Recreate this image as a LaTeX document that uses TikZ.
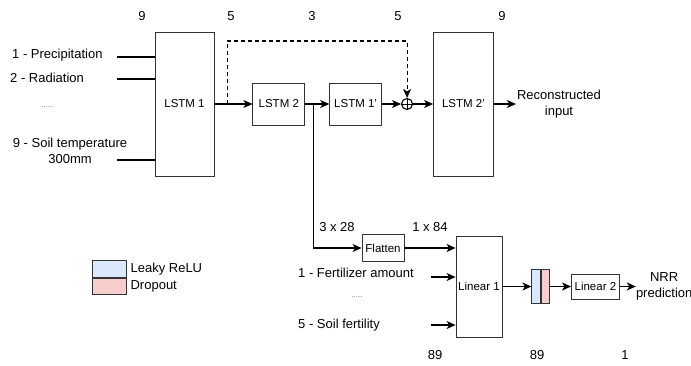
\documentclass[tikz,border=0pt]{standalone}
\usepackage{fontspec}
\setmainfont{Liberation Sans}
\usepackage{xcolor}
\usetikzlibrary{positioning, arrows.meta, calc}

\definecolor{relublue}{HTML}{DAE8FC}
\definecolor{dropred}{HTML}{F8CECC}
\definecolor{edgegrey}{HTML}{333333}

\begin{document}
\begin{tikzpicture}[
    x=1pt, y=-1pt,
    >={Stealth[length=9pt, width=8pt, inset=2.5pt]},
    font=\fontsize{13}{16}\selectfont,
    block/.style={draw=edgegrey, line width=0.8pt, align=center, inner sep=1pt, font=\fontsize{11.5}{14}\selectfont},
    tall/.style={block, minimum width=59pt, minimum height=144pt},
    sblock/.style={block, minimum width=52pt, minimum height=42pt},
    legbox/.style={draw=edgegrey, line width=0.8pt, minimum width=34pt, minimum height=16.5pt, inner sep=0pt},
    arrow/.style={->, line width=1.1pt},
    feed/.style={line width=1.1pt},
    inlabel/.style={anchor=west, inner sep=0pt},
    dots/.style={text=black!55, font=\footnotesize},
]
\useasboundingbox (0,0) rectangle (691,365);

% Autoencoder
\node[tall] (lstmA) at (184.5,104) {LSTM 1};
\node[sblock, right=38pt of lstmA] (lstmB) {LSTM 2};
\node[sblock, right=24pt of lstmB] (lstmC) {LSTM 1'};
\node[circle, draw=black, line width=1.1pt, inner sep=0pt, minimum size=11pt, right=19pt of lstmC] (plus) {};
\draw[line width=0.9pt] (plus.north) -- (plus.south) (plus.west) -- (plus.east);
\node[tall, minimum width=60pt, right=20pt of plus] (lstmD) {LSTM 2'};
\node[align=center, inner sep=1pt, right=22pt of lstmD] (recon) {Reconstructed\\input};

\draw[arrow] (lstmA) -- (lstmB);
\draw[arrow] (lstmB) -- (lstmC);
\draw[arrow] (lstmC) -- (plus);
\draw[arrow] (plus) -- (lstmD);
\draw[arrow] (lstmD) -- (recon);

% Skip connection
\coordinate (skip) at ($(lstmA.east)!0.34!(lstmB.west)$);
\draw[arrow, dash pattern=on 4pt off 3pt] (skip) -- ++(0,-63) -| (plus.north);

% Sizes
\node (nA) at (142,16) {9};
\node (nB) at (231,16) {5};
\node (nC) at (312,16) {3};
\node (nD) at (398,16) {5};
\node (nE) at (502,16) {9};

% Weather inputs
\node[inlabel] (inA) at (12,55) {1 - Precipitation};
\node[inlabel] (inB) at (10,78) {2 - Radiation};
\node[dots] (dotA) at (47,107) {.....};
\node[align=center, inner sep=0pt] (inC) at (70,151) {9 - Soil temperature\\300mm};

\coordinate (pA) at (117,57);
\coordinate (pB) at (117,79);
\coordinate (pC) at (117,160);
\draw[feed] (pA) -- (pA -| lstmA.west);
\draw[feed] (pB) -- (pB -| lstmA.west);
\draw[feed] (pC) -- (pC -| lstmA.west);

% Regression head
\coordinate (split) at ($(lstmB.east)!0.33!(lstmC.west)$);
\node[block, minimum width=42pt, minimum height=27pt] (flat) at (383,248) {Flatten};
\draw[arrow] (split) |- (flat);
\node (shA) at (337,227) {3 x 28};
\node (shB) at (430,227) {1 x 84};

\node[block, minimum width=46pt, minimum height=101pt] (linA) at (479,286.5) {Linear 1};
\draw[arrow] (flat) -- (flat -| linA.west);

\node[inlabel] (inD) at (298,273) {1 - Fertilizer amount};
\node[dots] (dotB) at (357,297) {.....};
\node[inlabel] (inE) at (298,325) {5 - Soil fertility};
\coordinate (pD) at (431,277);
\coordinate (pE) at (431,325);
\draw[arrow] (pD) -- (pD -| linA.west);
\draw[arrow] (pE) -- (pE -| linA.west);

\node[legbox, fill=relublue, minimum width=9pt, minimum height=34pt, right=29pt of linA] (relu) {};
\node[legbox, fill=dropred, minimum width=8pt, minimum height=34pt, right=0pt of relu] (drop) {};
\draw[arrow] (linA) -- (relu);

\node[block, minimum width=48pt, minimum height=25pt, right=21pt of drop] (linB) {Linear 2};
\draw[arrow] (drop) -- (linB);
\node[align=center, inner sep=0pt, right=16pt of linB] (nrr) {NRR\\prediction};
\draw[arrow] (linB) -- (nrr);

\node (nF) at (435,355) {89};
\node (nG) at (537,355) {89};
\node (nH) at (625,355) {1};

% Legend
\node[legbox, fill=relublue] (legA) at (109,269) {};
\node[legbox, fill=dropred, below=0pt of legA] (legB) {};
\node[inner sep=0pt, right=4pt of legA] (legAtxt) {Leaky ReLU};
\node[inner sep=0pt, right=4pt of legB] (legBtxt) {Dropout};

\end{tikzpicture}
\end{document}
